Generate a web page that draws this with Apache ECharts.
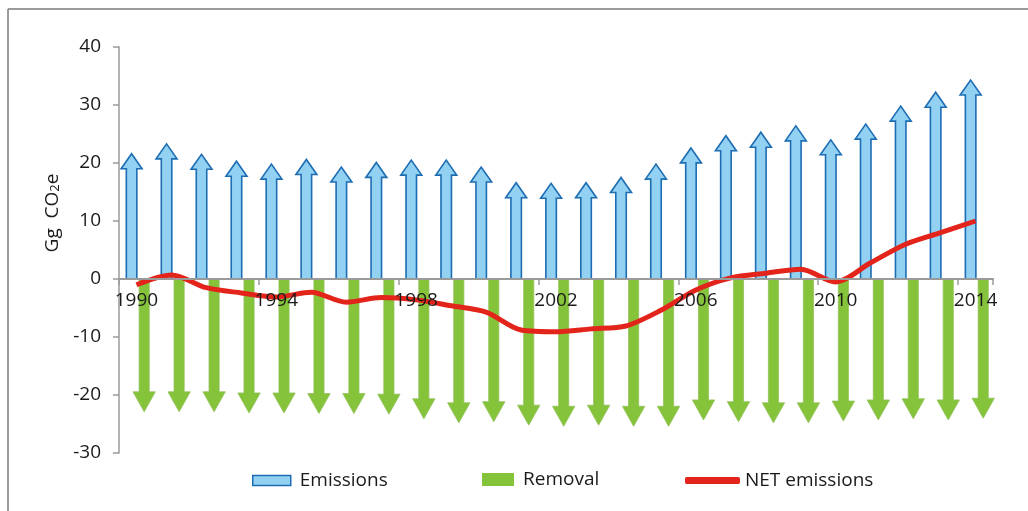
<!DOCTYPE html>
<html>
<head>
<meta charset="utf-8">
<script src="https://cdn.jsdelivr.net/npm/echarts@6/dist/echarts.min.js"></script>
<style>
  html, body { margin: 0; padding: 0; background: #ffffff; }
  #chart { width: 1028px; height: 511px; }
</style>
</head>
<body>
<div id="chart"></div>
<script>
const years = ['1990','1991','1992','1993','1994','1995','1996','1997','1998','1999','2000','2001','2002','2003','2004','2005','2006','2007','2008','2009','2010','2011','2012','2013','2014'];
const emissions = [21.6, 23.3, 21.5, 20.3, 19.8, 20.6, 19.3, 20.1, 20.5, 20.5, 19.3, 16.6, 16.5, 16.6, 17.5, 19.8, 22.6, 24.7, 25.3, 26.4, 24.0, 26.7, 29.8, 32.2, 34.3];
const removal = [-22.9, -22.9, -22.9, -23.1, -23.1, -23.2, -23.2, -23.3, -24.1, -24.8, -24.6, -25.2, -25.4, -25.2, -25.4, -25.4, -24.3, -24.6, -24.8, -24.8, -24.5, -24.3, -24.1, -24.3, -24.0];
const netEmissions = [-1.0, 0.7, -1.5, -2.4, -3.1, -2.3, -4.0, -3.2, -3.6, -4.6, -5.7, -8.8, -9.1, -8.6, -8.1, -5.4, -1.9, 0.2, 1.0, 1.7, -0.5, 2.8, 6.0, 8.0, 10.0];
const yTicks = { min: -30, max: 40, interval: 10 };

const FONT = '"Open Sans", "Liberation Sans", sans-serif';
const TEXT = '#1a1a1a';
const AXIS = '#9a9a9a';

// layout: grid spans 47..453 vertically; zero line sits at 279
const GRID_TOP = 47, GRID_BOTTOM_PX = 58, CHART_H = 511;
const plotH = CHART_H - GRID_TOP - GRID_BOTTOM_PX;
const zeroOffset = -plotH * (0 - yTicks.min) / (yTicks.max - yTicks.min);

function arrowPoints(cx, y0, y1, shaftHalf, headHalf, headLen) {
  const dir = y1 < y0 ? 1 : -1;
  const hb = y1 + dir * headLen;
  return [
    [cx - shaftHalf, y0],
    [cx - shaftHalf, hb],
    [cx - headHalf, hb],
    [cx, y1],
    [cx + headHalf, hb],
    [cx + shaftHalf, hb],
    [cx + shaftHalf, y0]
  ];
}

function renderUp(params, api) {
  const i = api.value(0), v = api.value(1);
  const base = api.coord([i, 0]);
  const tip = api.coord([i, v]);
  const band = api.size([1, 0])[0];
  const cx = base[0] - band * 0.14;
  return {
    type: 'polygon',
    shape: { points: arrowPoints(cx, base[1], tip[1], band * 0.15, band * 0.3, 15) },
    style: { fill: '#92d1f2', stroke: '#1d6db3', lineWidth: 1.6 }
  };
}

function renderDown(params, api) {
  const i = api.value(0), v = api.value(1);
  const base = api.coord([i, 0]);
  const tip = api.coord([i, v]);
  const band = api.size([1, 0])[0];
  const cx = base[0] + band * 0.22;
  return {
    type: 'polygon',
    shape: { points: arrowPoints(cx, base[1], tip[1], band * 0.145, band * 0.32, 20) },
    style: { fill: '#84c33a', stroke: '#93c25a', lineWidth: 0.8 }
  };
}

const chart = echarts.init(document.getElementById('chart'));
chart.setOption({
  animation: false,
  backgroundColor: '#ffffff',
  textStyle: { fontFamily: FONT },
  grid: { left: 119, right: 35, top: GRID_TOP, bottom: GRID_BOTTOM_PX, containLabel: false },
  legend: [
    {
      left: 247, top: 466, itemWidth: 38, itemHeight: 10, itemGap: 10,
      textStyle: { fontFamily: FONT, fontSize: 19, color: TEXT, padding: [0, 0, 0, 4] },
      data: [{ name: 'Emissions', icon: 'rect', itemStyle: { color: '#92d1f2', borderColor: '#1d6db3', borderWidth: 1.5 } }]
    },
    {
      left: 477, top: 465, itemWidth: 32, itemHeight: 13,
      textStyle: { fontFamily: FONT, fontSize: 19, color: TEXT, padding: [0, 0, 0, 4] },
      data: [{ name: 'Removal', icon: 'rect', itemStyle: { color: '#84c33a' } }]
    },
    {
      left: 680, top: 466, itemWidth: 55, itemHeight: 7,
      textStyle: { fontFamily: FONT, fontSize: 19, color: TEXT },
      data: [{ name: 'NET emissions', icon: 'roundRect', itemStyle: { color: '#e3241b' } }]
    }
  ],
  xAxis: {
    type: 'category',
    data: years,
    boundaryGap: true,
    position: 'bottom',
    offset: zeroOffset,
    z: 10,
    axisLine: { onZero: false, lineStyle: { color: AXIS, width: 2 } },
    axisTick: { show: true, interval: 3, length: 6, lineStyle: { color: AXIS, width: 1.5 } },
    axisLabel: { interval: 3, margin: 12, fontSize: 19, color: TEXT, fontFamily: FONT },
    splitLine: { show: false }
  },
  yAxis: {
    type: 'value',
    min: yTicks.min, max: yTicks.max, interval: yTicks.interval,
    axisLine: { show: true, lineStyle: { color: AXIS, width: 1.5 } },
    axisTick: { show: true, length: 6, lineStyle: { color: AXIS, width: 1.5 } },
    axisLabel: { margin: 18, fontSize: 19, color: TEXT, fontFamily: FONT },
    splitLine: { show: false }
  },
  graphic: [
    { type: 'line', shape: { x1: 8, y1: 9, x2: 1028, y2: 9 }, style: { stroke: '#7a7a7a', lineWidth: 1.5 }, silent: true },
    { type: 'line', shape: { x1: 8, y1: 9, x2: 8, y2: 511 }, style: { stroke: '#7a7a7a', lineWidth: 1.5 }, silent: true },
    {
      type: 'text', x: 50, y: 213, rotation: Math.PI / 2, silent: true,
      style: {
        text: '{n|Gg  CO}{s|2}{n|e}',
        align: 'center', verticalAlign: 'middle',
        rich: {
          n: { fontFamily: FONT, fontSize: 19, fill: TEXT, lineHeight: 24, verticalAlign: 'bottom' },
          s: { fontFamily: FONT, fontSize: 13, fill: TEXT, lineHeight: 24, verticalAlign: 'bottom', padding: [10, 0, 0, 0] }
        }
      }
    }
  ],
  series: [
    {
      name: 'Emissions', type: 'custom', renderItem: renderUp,
      itemStyle: { color: '#92d1f2' },
      encode: { x: 0, y: 1 },
      data: emissions.map((v, i) => [i, v]), z: 2
    },
    {
      name: 'Removal', type: 'custom', renderItem: renderDown,
      itemStyle: { color: '#84c33a' },
      encode: { x: 0, y: 1 },
      data: removal.map((v, i) => [i, v]), z: 2
    },
    {
      name: 'NET emissions', type: 'line', data: netEmissions,
      smooth: 0.3, symbol: 'none',
      lineStyle: { color: '#e3241b', width: 5 },
      itemStyle: { color: '#e3241b' }, z: 5
    }
  ]
});
</script>
</body>
</html>
